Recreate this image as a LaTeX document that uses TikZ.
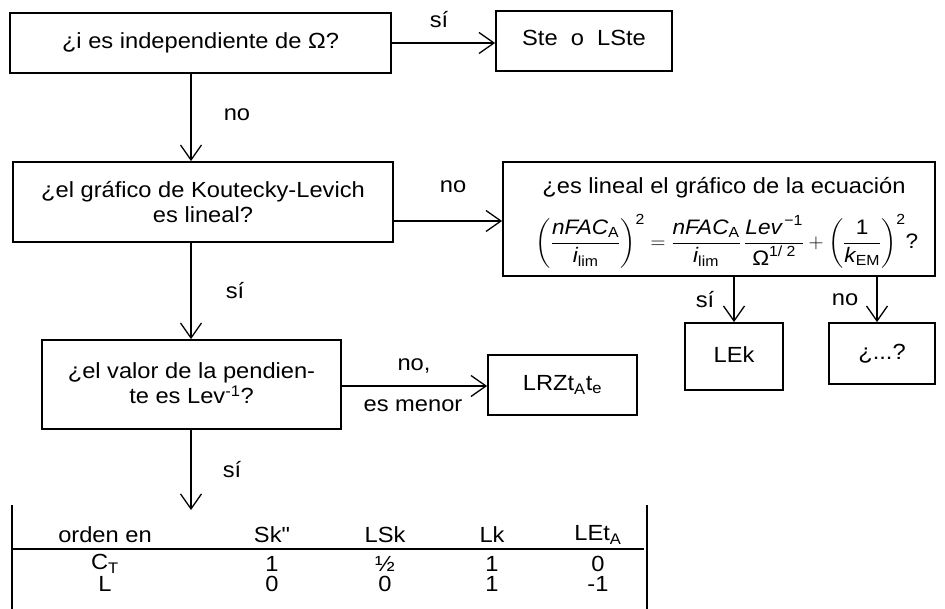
\documentclass[tikz,border=0pt]{standalone}
\usepackage{amsmath}
\usepackage{fontspec}
\setmainfont[FakeStretch=1.08,Ligatures=TeXOff]{Liberation Sans}
\usetikzlibrary{arrows.meta,calc}
\begin{document}
\begin{tikzpicture}[x=1bp,y=-1bp,
  txt/.style={font=\fontsize{22}{25}\selectfont},
  box/.style={draw,line width=1.8bp,inner sep=0pt,align=center,anchor=center,txt},
  lbl/.style={inner sep=0pt,txt},
  cell/.style={inner sep=0pt,txt},
  conn/.style={line width=1.3bp,-{Straight Barb[length=15bp,width=21bp,line width=1.3bp]}},
  rule/.style={line width=1.8bp}]
\useasboundingbox (0,0) rectangle (945,609);
% boxes
\node[box,minimum width=381bp,minimum height=60bp] (b1) at (200.5,43) {¿i es independiente de Ω?};
\node[box,minimum width=176bp,minimum height=60bp] (b2) at (584,41) {\raisebox{7bp}{Ste\ \ o\ \ LSte}};
\node[box,minimum width=380bp,minimum height=80bp] (b3) at (203,202) {\raisebox{-5bp}{\shortstack{¿el gráfico de Koutecky-Levich\\[1bp]es lineal?}}};
\node[box,minimum width=432bp,minimum height=114bp] (b4) at (719,219) {};
\node[lbl] (q4) at (724,188) {¿es lineal el gráfico de la ecuación};
\node[inner sep=0pt,font=\fontsize{21}{24}\selectfont] (eq) at (727,241)
 {$\left(\dfrac{\textit{nFAC}_{\text{A}}}{\textit{i}_{\text{lim}}}\right)^{\text{2}}
 = \dfrac{\textit{nFAC}_{\text{A}}}{\textit{i}_{\text{lim}}}\,\dfrac{\textit{Lev}^{\,\text{−1}}}{\text{Ω}^{\text{1/ 2}}}
 + \left(\dfrac{\text{1}}{\textit{k}_{\text{EM}}}\right)^{\text{2}}$?};
\node[box,minimum width=299bp,minimum height=89bp] (b5) at (191.5,384.5) {\raisebox{3bp}{\shortstack{¿el valor de la pendien-\\te es Lev\textsuperscript{-1}?}}};
\node[box,minimum width=149bp,minimum height=60bp] (b6) at (562.5,385) {LRZt\textsubscript{A}t\textsubscript{e}};
\node[box,minimum width=98bp,minimum height=67bp] (b7) at (734,356.5) {\raisebox{4bp}{LEk}};
\node[box,minimum width=106bp,minimum height=61bp] (b8) at (882,353.5) {¿...?};
% connector guides
\coordinate (x1) at (191,0);
\coordinate (y2) at (0,221);
\coordinate (y5) at (0,386);
\coordinate (x7) at (734,0);
\coordinate (x8) at (877,0);
\coordinate (tt) at (191,510);
% connectors
\draw[conn] (b1.east) -- (b1.east -| b2.west);
\draw[conn] (b1.south -| x1) -- (b3.north -| x1);
\draw[conn] (b3.east |- y2) -- (b4.west |- y2);
\draw[conn] (b3.south -| x1) -- (b5.north -| x1);
\draw[conn] (b5.east |- y5) -- (b6.west |- y5);
\draw[conn] (b4.south -| x7) -- (b7.north -| x7);
\draw[conn] (b4.south -| x8) -- (b8.north -| x8);
\draw[conn] (b5.south -| x1) -- (tt);
% labels
\node[lbl] (l1) at (439,20) {sí};
\node[lbl] (l2) at (237,115) {no};
\node[lbl] (l3) at (453,187) {no};
\node[lbl] (l4) at (235,291) {sí};
\node[lbl] (l5) at (414,366) {no,};
\node[lbl] (l6) at (413,406) {es menor};
\node[lbl] (l7) at (232,470) {sí};
\node[lbl] (l8) at (705,300) {sí};
\node[lbl] (l9) at (845,300) {no};
% table
\draw[rule] (12,505) -- (12,609);
\draw[rule] (647,505) -- (647,609);
\draw[rule] (12,549) -- (644,549);
\node[cell] (h0) at (105,535) {orden en};
\node[cell] (h1) at (272,535) {Sk"};
\node[cell] (h2) at (385,535) {LSk};
\node[cell] (h3) at (492,535) {Lk};
\node[cell] (h4) at (598,535) {LEt\textsubscript{A}};
\node[cell] (r10) at (105,564) {C\textsubscript{T}};
\node[cell] (r11) at (272,564) {1};
\node[cell] (r12) at (385,564) {½};
\node[cell] (r13) at (492,564) {1};
\node[cell] (r14) at (598,564) {0};
\node[cell] (r20) at (105,584) {L};
\node[cell] (r21) at (272,584) {0};
\node[cell] (r22) at (385,584) {0};
\node[cell] (r23) at (492,584) {1};
\node[cell] (r24) at (598,584) {-1};
\end{tikzpicture}
\end{document}
